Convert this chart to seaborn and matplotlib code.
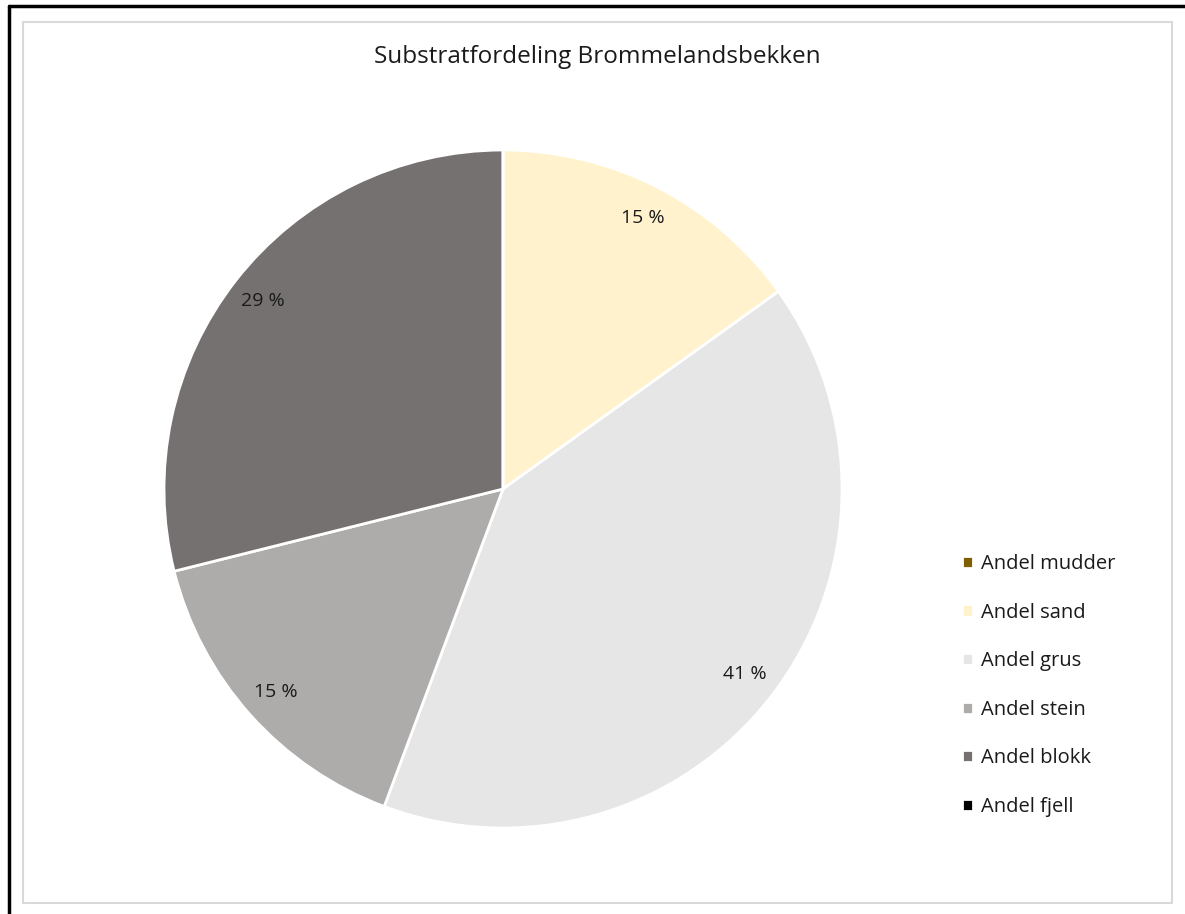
import numpy as np
import matplotlib
matplotlib.use('Agg')
import matplotlib.pyplot as plt
import seaborn as sns
from matplotlib.patches import Rectangle
from matplotlib.lines import Line2D

# Data (clockwise from 12 o'clock)
categories = ['Andel mudder', 'Andel sand', 'Andel grus', 'Andel stein', 'Andel blokk', 'Andel fjell']
shares = [0.0, 15.1, 40.6, 15.4, 28.9, 0.0]
colors = ['#7F6000', '#FFF2CC', '#E7E6E6', '#AEABAB', '#767171', '#000000']
title = 'Substratfordeling Brommelandsbekken'

sns.set_theme(style='white')
plt.rcParams['font.family'] = ['Open Sans', 'DejaVu Sans']

W, H = 1185, 914
fig = plt.figure(figsize=(W / 100, H / 100), dpi=100)
fig.patch.set_facecolor('white')

# pie axes: centre (503, 489), radius 339 px
cx, cy, r = 503, 489, 339
ax = fig.add_axes([(cx - r) / W, (H - cy - r) / H, 2 * r / W, 2 * r / H])


def pct_label(p):
    return '' if p < 0.5 else f'{p:.0f} %'


wedges, texts, autotexts = ax.pie(
    shares, colors=colors, startangle=90, counterclock=False,
    autopct=pct_label, pctdistance=0.9,
    wedgeprops=dict(edgecolor='white', linewidth=2),
    textprops=dict(fontsize=14, color='#1a1a1a'))
ax.set_xlim(-1, 1)
ax.set_ylim(-1, 1)
ax.set_aspect('equal')

fig.text(597 / W, 1 - 57 / H, title, ha='center', va='center', fontsize=17.5, color='#1a1a1a')

leg = fig.legend(wedges, categories, loc='upper left',
                 bbox_to_anchor=(962 / W, 1 - 554 / H), frameon=False,
                 fontsize=14.5, handlelength=0.55, handleheight=0.55,
                 handletextpad=0.4, labelspacing=1.42, borderaxespad=0,
                 borderpad=0)
for t in leg.get_texts():
    t.set_color('#1a1a1a')

# chart area border and outer frame
fig.patches.append(Rectangle((23 / W, 11 / H), (1172 - 23) / W, (903 - 22) / H,
                             transform=fig.transFigure, fill=False,
                             edgecolor='#D9D9D9', linewidth=1.5))
fig.lines.append(Line2D([9 / W, 9 / W], [0, 1 - 6 / H], transform=fig.transFigure,
                        color='black', linewidth=2.5))
fig.lines.append(Line2D([9 / W, 1], [1 - 6 / H, 1 - 6 / H], transform=fig.transFigure,
                        color='black', linewidth=2.5))

fig.savefig('out.png', dpi=100)
